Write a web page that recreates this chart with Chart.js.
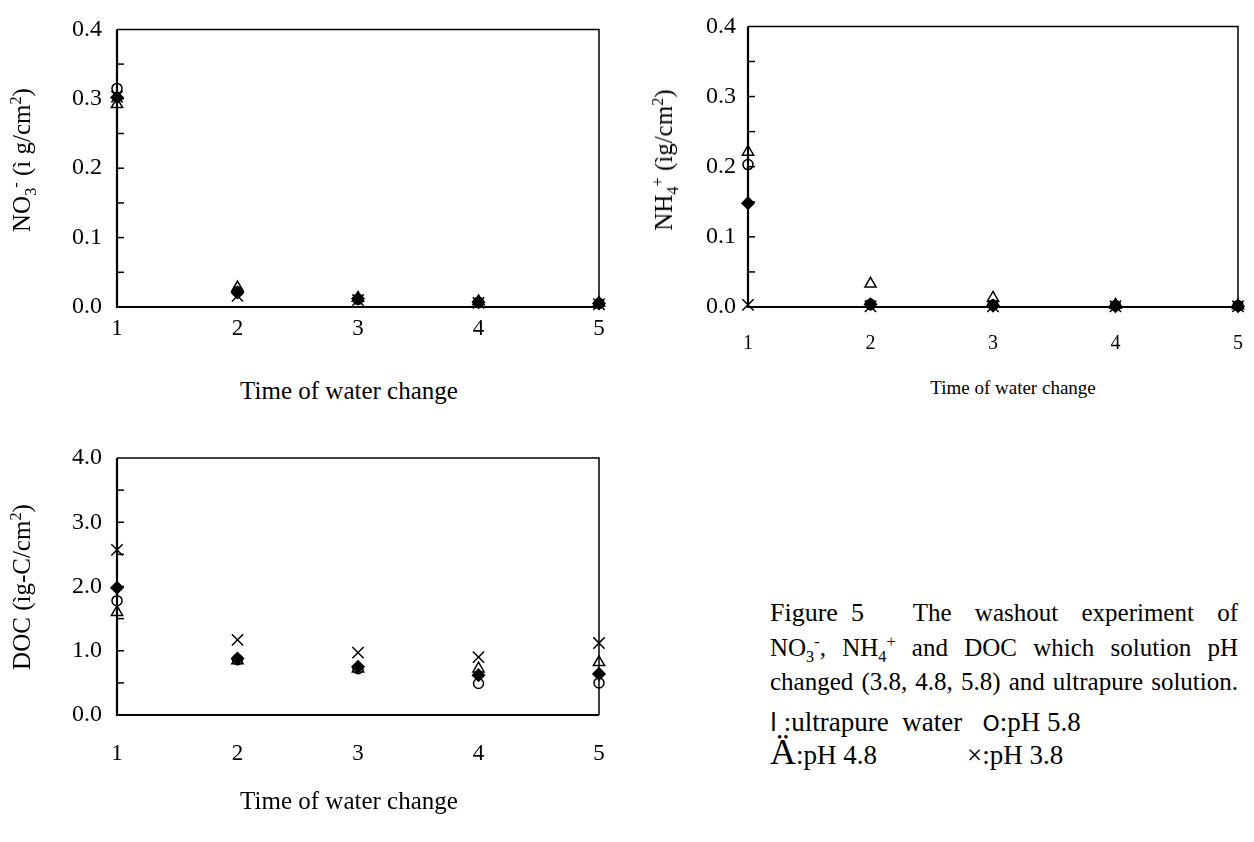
<!DOCTYPE html>
<html lang="en">
<head>
<meta charset="UTF-8">
<title>Washout experiment</title>
<script src="https://cdn.jsdelivr.net/npm/chart.js"></script>
<style>
  body { margin: 0; background: #fff; font-family: 'Liberation Serif', 'Times New Roman', serif; color: #000; }
  #wrap { position: relative; width: 1254px; height: 842px; overflow: hidden; }
  canvas { position: absolute; }
  .ytitle { position: absolute; white-space: nowrap; transform: translate(-50%, -50%) rotate(-90deg); font-size: 25px; }
  .xtitle { position: absolute; white-space: nowrap; transform: translate(-50%, -50%); font-size: 25px; }
  sub, sup { font-size: 0.65em; line-height: 0; }
  .cap { position: absolute; left: 770px; width: 468px; font-family: 'Liberation Serif', serif; font-size: 25px; line-height: 26px; white-space: nowrap; }
  .just { text-align: justify; text-align-last: justify; white-space: normal; }
</style>
</head>
<body>
<div id="wrap">
  <canvas id="c1" width="620" height="360" style="left:0;top:0"></canvas>
  <canvas id="c2" width="634" height="360" style="left:620px;top:0"></canvas>
  <canvas id="c3" width="620" height="370" style="left:0;top:420px"></canvas>

  <div class="ytitle" style="left:22px;top:160px">NO<sub>3</sub><sup>-</sup> (ì g/cm<sup>2</sup>)</div>
  <div class="ytitle" style="left:664px;top:160px">NH<sub>4</sub><sup>+</sup> (ìg/cm<sup>2</sup>)</div>
  <div class="ytitle" style="left:22px;top:587px">DOC (ìg-C/cm<sup>2</sup>)</div>

  <div class="xtitle" style="left:349px;top:391px">Time of water change</div>
  <div class="xtitle" style="left:1013px;top:388px;font-size:19px">Time of water change</div>
  <div class="xtitle" style="left:349px;top:801px">Time of water change</div>

  <div class="cap just" style="top:600px"><span style="display:inline-block;font-size:26px;margin-right:26px">Figure&nbsp; 5</span> The washout experiment of</div>
  <div class="cap just" style="top:635px">NO<sub>3</sub><sup>-</sup>, NH<sub>4</sub><sup>+</sup> and DOC which solution pH</div>
  <div class="cap just" style="top:669px">changed (3.8, 4.8, 5.8) and ultrapure solution.</div>
  <div class="cap" style="top:706px;line-height:32px;font-size:27px"><span style="font-family:'DejaVu Sans';font-size:25px">l</span>&nbsp;:ultrapure&nbsp; water&nbsp;&nbsp; <span style="font-family:'DejaVu Sans';font-size:22px">O</span>:pH 5.8</div>
  <div class="cap" style="top:736px;line-height:32px;font-size:27px"><span style="font-size:36px">Ä</span>:pH 4.8<span style="display:inline-block;width:90px"></span>×:pH 3.8</div>
</div>

<script>
// time of water change
const times = [1, 2, 3, 4, 5];

// NO3- (ug/cm2)
const no3Ultrapure = [0.302, 0.021, 0.012, 0.007, 0.005];
const no3PH58 = [0.315, 0.022, 0.011, 0.007, 0.005];
const no3PH48 = [0.292, 0.028, 0.013, 0.008, 0.006];
const no3PH38 = [0.303, 0.016, 0.010, 0.006, 0.004];

// NH4+ (ug/cm2)
const nh4Ultrapure = [0.148, 0.004, 0.002, 0.001, 0.001];
const nh4PH58 = [0.203, 0.004, 0.003, 0.002, 0.002];
const nh4PH48 = [0.221, 0.033, 0.013, 0.003, 0.002];
const nh4PH38 = [0.003, 0.001, 0.001, 0.001, 0.001];

// DOC (ug-C/cm2)
const docUltrapure = [1.98, 0.88, 0.75, 0.62, 0.64];
const docPH58 = [1.78, 0.86, 0.72, 0.49, 0.50];
const docPH48 = [1.60, 0.85, 0.72, 0.72, 0.82];
const docPH38 = [2.57, 1.17, 0.97, 0.90, 1.12];

const FONT = "'Liberation Serif', 'Times New Roman', serif";

// box around plot + small inward ticks on y axis
const framePlugin = {
  id: 'frame',
  beforeDatasetsDraw(chart, args, opts) {
    const ctx = chart.ctx;
    const a = chart.chartArea;
    const y = chart.scales.y;
    ctx.save();
    ctx.strokeStyle = '#000';
    ctx.lineWidth = 1.5;
    ctx.beginPath();
    ctx.moveTo(a.left, a.top);
    ctx.lineTo(a.right, a.top);
    ctx.lineTo(a.right, a.bottom);
    ctx.stroke();
    ctx.lineWidth = 2.2;
    ctx.beginPath();
    ctx.moveTo(a.left, a.top);
    ctx.lineTo(a.left, a.bottom);
    ctx.lineTo(a.right, a.bottom);
    ctx.stroke();
    ctx.lineWidth = 1.5;
    const n = Math.round((y.max - y.min) / opts.minor);
    for (let i = 1; i < n; i++) {
      const py = y.getPixelForValue(y.min + i * opts.minor);
      ctx.beginPath();
      ctx.moveTo(a.left, py);
      ctx.lineTo(a.left + 7, py);
      ctx.stroke();
    }
    ctx.restore();
  }
};

function series(values, style) {
  const base = {
    data: times.map((t, i) => ({ x: t, y: values[i] })),
    showLine: false,
    clip: false,
    borderColor: '#000',
    borderWidth: 1.5,
    backgroundColor: 'rgba(0,0,0,0)'
  };
  if (style === 'diamond') return Object.assign(base, { pointStyle: 'rectRot', pointRadius: 6, backgroundColor: '#000' });
  if (style === 'circle') return Object.assign(base, { pointStyle: 'circle', pointRadius: 5 });
  if (style === 'triangle') return Object.assign(base, { pointStyle: 'triangle', pointRadius: 6.5 });
  return Object.assign(base, { pointStyle: 'crossRot', pointRadius: 8 });
}

function makeChart(id, sets, cfg) {
  return new Chart(document.getElementById(id), {
    type: 'scatter',
    data: {
      datasets: [
        series(sets[0], 'circle'),
        series(sets[1], 'triangle'),
        series(sets[2], 'cross'),
        series(sets[3], 'diamond')
      ]
    },
    options: {
      responsive: false,
      animation: false,
      events: [],
      layout: { padding: { top: cfg.top, right: cfg.right, left: 0, bottom: 0 } },
      plugins: { legend: { display: false }, tooltip: { enabled: false }, frame: { minor: cfg.step / 2 } },
      scales: {
        x: {
          type: 'linear', min: 1, max: 5,
          grid: { display: false, drawTicks: false },
          border: { display: false },
          ticks: {
            stepSize: 1, padding: cfg.xPad, maxRotation: 0, minRotation: 0,
            color: '#000', font: { family: FONT, size: cfg.xSize }
          },
          afterFit: s => {
            s.height = cfg.xHeight;
            s.paddingLeft = 0;
            s.paddingRight = 0;
          }
        },
        y: {
          min: 0, max: cfg.max,
          grid: { display: false, drawTicks: false },
          border: { display: false },
          ticks: {
            stepSize: cfg.step, padding: cfg.yPad, color: '#000',
            font: { family: FONT, size: 24 },
            callback: v => v.toFixed(1)
          },
          afterFit: s => { s.width = cfg.yWidth; }
        }
      }
    },
    plugins: [framePlugin]
  });
}

makeChart('c1', [no3PH58, no3PH48, no3PH38, no3Ultrapure],
  { max: 0.4, step: 0.1, top: 16, right: 21, yWidth: 117, xHeight: 53, xPad: 8, yPad: 15, xSize: 23 });
makeChart('c2', [nh4PH58, nh4PH48, nh4PH38, nh4Ultrapure],
  { max: 0.4, step: 0.1, top: 16, right: 16, yWidth: 128, xHeight: 53, xPad: 25, yPad: 12, xSize: 20 });
makeChart('c3', [docPH58, docPH48, docPH38, docUltrapure],
  { max: 4, step: 1, top: 38, right: 21, yWidth: 117, xHeight: 75, xPad: 25, yPad: 15, xSize: 23 });
</script>
</body>
</html>
